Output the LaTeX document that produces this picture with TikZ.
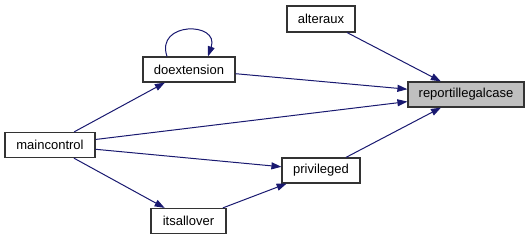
\documentclass[tikz,border=0pt]{standalone}
\usepackage{fontspec}
\setmainfont{Liberation Sans}
\usetikzlibrary{arrows.meta}
\definecolor{edgeblue}{HTML}{191970}
\definecolor{boxline}{HTML}{333333}
\definecolor{hilite}{HTML}{BFBFBF}
\begin{document}
\begin{tikzpicture}[x=1pt,y=-1pt,
  fn/.style={draw=boxline,line width=1.2pt,fill=white,rectangle,inner sep=0pt,
    minimum height=25pt,font=\fontsize{13}{15}\selectfont},
  edge/.style={draw=edgeblue,line width=1pt,-{Triangle[length=10pt,width=7pt]}}]
\useasboundingbox (0,0) rectangle (529,240);
% functions
\node[fn,minimum width=90pt] (maincontrol) at (50,145) {maincontrol};
\node[fn,minimum width=92pt] (doextension) at (189,69.5) {doextension};
\node[fn,minimum width=75pt] (itsallover) at (188.5,221) {itsallover};
\node[fn,minimum width=68pt,minimum height=26pt] (alteraux) at (321,19) {alteraux};
\node[fn,minimum width=116pt,fill=hilite] (report) at (466,94.5) {reportillegalcase};
\node[fn,minimum width=78pt] (privileged) at (321,170.5) {privileged};
% calls
\draw[edge] (maincontrol) -- (doextension);
\draw[edge] (maincontrol) -- (itsallover);
\draw[edge] (maincontrol) -- (report);
\draw[edge] (maincontrol) -- (privileged);
\draw[edge] (doextension) -- (report);
\draw[edge] (alteraux) -- (report);
\draw[edge] (privileged) -- (report);
\draw[edge] (itsallover) -- (privileged);
% recursive call
\draw[edge] ([xshift=-22pt]doextension.north) .. controls +(-12,-35) and +(12,-35) .. ([xshift=19pt]doextension.north);
\end{tikzpicture}
\end{document}
